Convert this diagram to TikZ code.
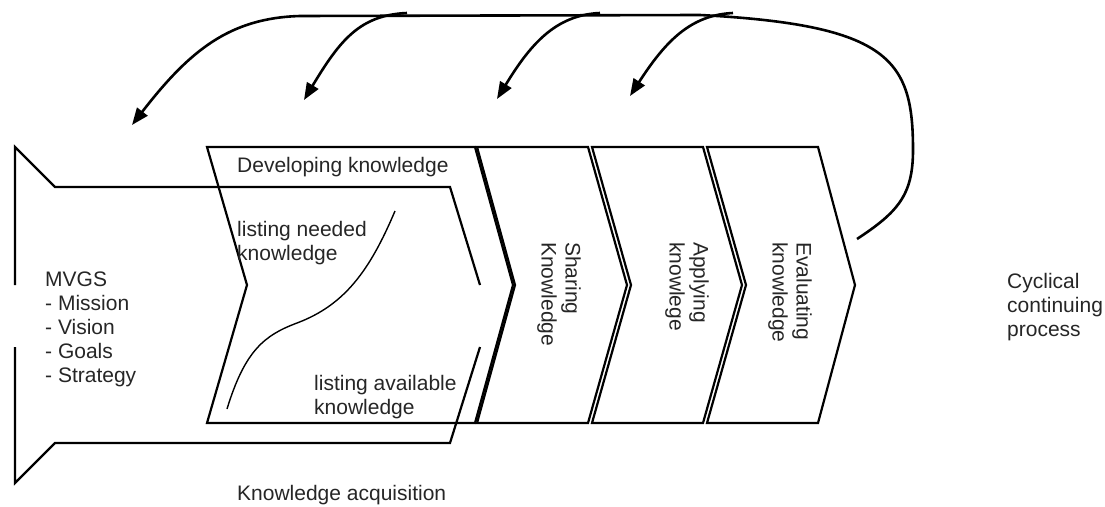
\documentclass[tikz,border=0pt]{standalone}
\usepackage{fontspec}
\setmainfont{Liberation Sans}
\usetikzlibrary{arrows.meta}
\tikzset{
  shapeline/.style={line width=2.2pt, line join=miter, draw=black},
  txt/.style={font=\fontsize{21}{24}\selectfont, inner sep=0pt, align=left, text=black!85},
  vtxt/.style={txt, rotate=-90, anchor=west},
  fbline/.style={line width=2.6pt, draw=black, -{Triangle[length=17pt,width=13pt]}},
  thinline/.style={line width=1.4pt, draw=black}
}
\begin{document}
\begin{tikzpicture}[x=1pt,y=-1pt]
\useasboundingbox (0,0) rectangle (1105,506);

% big left notched arrow (Knowledge acquisition)
\draw[shapeline] (15,285) -- (15,147) -- (55,187) -- (450,187) -- (480,285);
\draw[shapeline] (480,347) -- (450,443) -- (55,443) -- (15,483) -- (15,347);

% chevrons
\draw[shapeline] (207,147) -- (475,147) -- (513,285) -- (475,423) -- (207,423) -- (247,285) -- cycle;
\draw[shapeline] (477,147) -- (588,147) -- (627,285) -- (588,423) -- (477,423) -- (515,285) -- cycle;
\draw[shapeline] (592,147) -- (703,147) -- (742,285) -- (703,423) -- (592,423) -- (631,285) -- cycle;
\draw[shapeline] (707,147) -- (818,147) -- (855,285) -- (818,423) -- (707,423) -- (746,285) -- cycle;

% sigmoid curve
\coordinate (sA) at (227,409);
\coordinate (sM) at (297,323);
\coordinate (sB) at (395,211);
\draw[thinline] (sA) .. controls (245,350) and (265,335) .. (sM) .. controls (345,305) and (370,270) .. (sB);

% texts
\node[txt, anchor=north west] (dev) at (237,157) {Developing knowledge};
\node[txt, anchor=north west] (need) at (237,221) {listing needed\\knowledge};
\node[txt, anchor=north west] (avail) at (314,375) {listing available\\knowledge};
\node[txt, anchor=north west] (mvgs) at (45,272) {MVGS\\- Mission\\- Vision\\- Goals\\- Strategy};
\node[txt, anchor=north west] (acq) at (237,485) {Knowledge acquisition};
\node[txt, anchor=north west] (cyc) at (1007,273) {Cyclical\\continuing\\process};
\node[vtxt] (share) at (559,242) {Sharing\\Knowledge};
\node[vtxt] (apply) at (687,242) {Applying\\knowlege};
\node[vtxt] (eval) at (790,242) {Evaluating\\knowledge};

% feedback loop
\coordinate (loopstart) at (857,239);
\coordinate (tipA) at (132,125);
\draw[fbline] (loopstart) .. controls (898,212) and (913,195) .. (913,150)
  .. controls (913,60) and (890,25) .. (700,15) -- (300,16)
  .. controls (230,18) and (190,50) .. (tipA);

% branch arrows
\coordinate (b1s) at (407,13);
\coordinate (b1t) at (304,100);
\coordinate (b2s) at (600,13);
\coordinate (b2t) at (497,99);
\coordinate (b3s) at (733,13);
\coordinate (b3t) at (630,96);
\draw[fbline] (b1s) .. controls (360,15) and (340,40) .. (b1t);
\draw[fbline] (b2s) .. controls (555,15) and (530,45) .. (b2t);
\draw[fbline] (b3s) .. controls (690,15) and (665,42) .. (b3t);
\end{tikzpicture}
\end{document}
